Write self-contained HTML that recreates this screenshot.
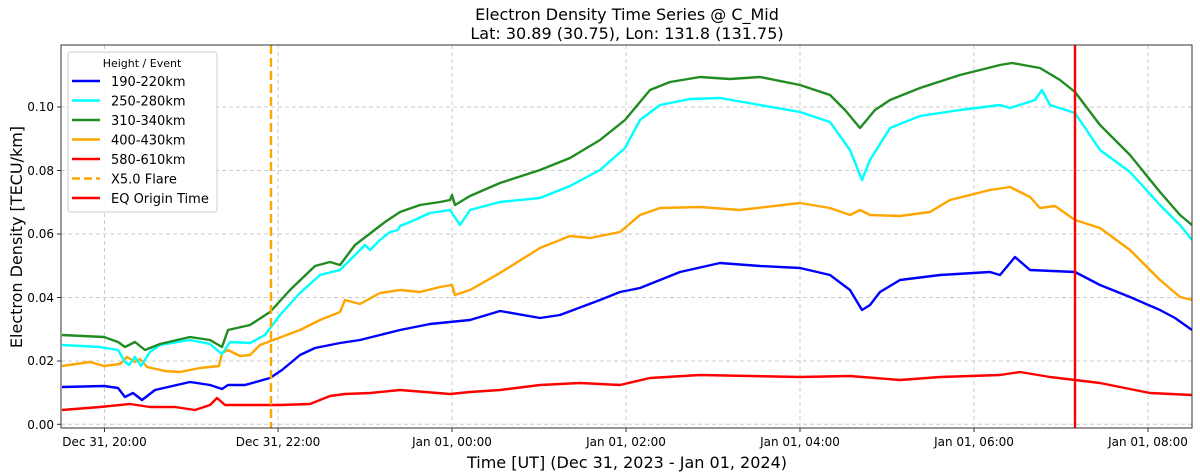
<!DOCTYPE html><html><head><meta charset="utf-8"><style>body{margin:0;background:#fff}svg{display:block;font-family:"DejaVu Sans","Liberation Sans",sans-serif}</style></head><body>
<svg width="1200" height="476" viewBox="0 0 1200 476">
<text x="627" y="20" font-size="16" text-anchor="middle">Electron Density Time Series @ C_Mid</text>
<text x="627" y="39" font-size="16" text-anchor="middle">Lat: 30.89 (30.75), Lon: 131.8 (131.75)</text>
<g stroke="#ccc" stroke-dasharray="4,3" stroke-width="1">
<line x1="104.5" y1="45" x2="104.5" y2="428"/><line x1="278" y1="45" x2="278" y2="428"/><line x1="452" y1="45" x2="452" y2="428"/><line x1="626" y1="45" x2="626" y2="428"/><line x1="800" y1="45" x2="800" y2="428"/><line x1="974" y1="45" x2="974" y2="428"/><line x1="1148" y1="45" x2="1148" y2="428"/>
<line x1="61" y1="424.3" x2="1192" y2="424.3"/><line x1="61" y1="361" x2="1192" y2="361"/><line x1="61" y1="297.5" x2="1192" y2="297.5"/><line x1="61" y1="234" x2="1192" y2="234"/><line x1="61" y1="170.5" x2="1192" y2="170.5"/><line x1="61" y1="107" x2="1192" y2="107"/>
</g>
<g fill="none" stroke-width="2.4" stroke-linejoin="round">
<polyline stroke="#ff0000" points="62,410 100,407 130,404 150,407 175,407 195,410 210,405 217,398 225,405 280,405 310,404 330,396 345,394 370,393 400,390 450,394 470,392 500,390 540,385 580,383 620,385 650,378 700,375 800,377 850,376 900,380 940,377 1000,375 1020,372 1050,377 1075,380 1100,383 1150,393 1192,395"/>
<polyline stroke="#0000ff" points="62,387 104,386 118,388 125,397 133,393 142,400 155,390 190,382 210,385 222,389 228,385 245,385 270,378 282,370 300,355 315,348 340,343 360,340 380,335 400,330 430,324 450,322 470,320 500,311 540,318 560,315 600,300 620,292 640,288 680,272 720,263 760,266 800,268 830,275 850,290 862,310 870,305 880,292 900,280 940,275 990,272 1000,275 1015,257 1030,270 1075,272 1100,285 1130,297 1160,310 1175,318 1192,330"/>
<polyline stroke="#ffa500" points="62,366 90,362 104,366 120,364 127,357 135,362 140,359 147,367 165,371 180,372 200,368 219,366 222,353 228,350 240,356 250,355 260,345 300,330 320,320 340,312 345,300 360,304 380,293 400,290 420,292 440,287 452,285 455,295 470,290 500,273 540,248 570,236 590,238 620,232 640,215 660,208 700,207 740,210 800,203 830,208 850,215 860,210 870,215 900,216 930,212 950,200 970,195 990,190 1010,187 1030,197 1040,208 1055,206 1075,220 1100,228 1130,250 1160,280 1180,297 1192,300"/>
<polyline stroke="#00ffff" points="62,345 100,347 118,350 125,362 129,365 135,357 141,366 150,352 160,345 190,340 210,344 222,354 230,342 250,343 265,335 280,315 300,293 320,275 340,270 355,255 365,245 370,250 380,240 390,232 398,230 400,226 410,222 430,213 450,210 460,225 470,210 500,202 540,198 570,186 600,170 625,148 640,120 660,105 690,99 720,98 760,105 800,112 830,122 850,150 862,180 870,160 890,128 920,116 960,110 1000,105 1010,108 1035,100 1042,90 1050,105 1075,113 1100,150 1130,172 1160,205 1180,225 1192,240"/>
<polyline stroke="#228b22" points="62,335 104,337 118,342 125,347 135,342 145,350 160,344 190,337 210,340 222,347 228,330 250,325 270,312 290,290 315,266 330,262 340,265 355,245 372,232 385,222 400,212 420,205 440,202 450,200 452,195 455,205 470,196 500,183 540,170 570,158 600,140 625,120 650,90 670,82 700,77 730,79 760,77 800,85 830,95 845,110 860,128 875,110 890,100 920,88 960,75 980,70 1000,65 1012,63 1040,68 1060,80 1075,92 1100,125 1130,155 1160,192 1180,215 1192,225"/>
</g>
<line x1="271" y1="45" x2="271" y2="428" stroke="#ffa500" stroke-width="2.4" stroke-dasharray="9,4"/>
<line x1="1075" y1="45" x2="1075" y2="428" stroke="#ff0000" stroke-width="2.4"/>
<rect x="61" y="45" width="1131" height="383" fill="none" stroke="#333" stroke-width="1"/>
<g stroke="#333"><line x1="104.5" y1="428" x2="104.5" y2="432"/><line x1="278" y1="428" x2="278" y2="432"/><line x1="452" y1="428" x2="452" y2="432"/><line x1="626" y1="428" x2="626" y2="432"/><line x1="800" y1="428" x2="800" y2="432"/><line x1="974" y1="428" x2="974" y2="432"/><line x1="1148" y1="428" x2="1148" y2="432"/>
<line x1="57" y1="424.3" x2="61" y2="424.3"/><line x1="57" y1="361" x2="61" y2="361"/><line x1="57" y1="297.5" x2="61" y2="297.5"/><line x1="57" y1="234" x2="61" y2="234"/><line x1="57" y1="170.5" x2="61" y2="170.5"/><line x1="57" y1="107" x2="61" y2="107"/></g>
<g font-size="12" text-anchor="end"><text x="54" y="429">0.00</text><text x="54" y="365">0.02</text><text x="54" y="302">0.04</text><text x="54" y="238">0.06</text><text x="54" y="175">0.08</text><text x="54" y="111">0.10</text></g>
<g font-size="12" text-anchor="middle"><text x="104.5" y="446">Dec 31, 20:00</text><text x="278" y="446">Dec 31, 22:00</text><text x="452" y="446">Jan 01, 00:00</text><text x="626" y="446">Jan 01, 02:00</text><text x="800" y="446">Jan 01, 04:00</text><text x="974" y="446">Jan 01, 06:00</text><text x="1148" y="446">Jan 01, 08:00</text></g>
<text x="627" y="468" font-size="16" text-anchor="middle">Time [UT] (Dec 31, 2023 - Jan 01, 2024)</text>
<text transform="translate(22,237) rotate(-90)" font-size="16" text-anchor="middle">Electron Density [TECU/km]</text>
<rect x="68" y="52" width="149" height="160" rx="3" fill="#fff" fill-opacity="0.85" stroke="#ccc"/>
<text x="142" y="67" font-size="11" text-anchor="middle">Height / Event</text>
<g stroke-width="2.4"><line x1="72" y1="81" x2="100" y2="81" stroke="#0000ff"/><line x1="72" y1="100.5" x2="100" y2="100.5" stroke="#00ffff"/><line x1="72" y1="120" x2="100" y2="120" stroke="#228b22"/><line x1="72" y1="139.5" x2="100" y2="139.5" stroke="#ffa500"/><line x1="72" y1="159" x2="100" y2="159" stroke="#ff0000"/><line x1="72" y1="178.5" x2="100" y2="178.5" stroke="#ffa500" stroke-dasharray="8,4"/><line x1="72" y1="198" x2="100" y2="198" stroke="#ff0000"/></g>
<g font-size="13"><text x="111" y="86">190-220km</text><text x="111" y="105.5">250-280km</text><text x="111" y="125">310-340km</text><text x="111" y="144.5">400-430km</text><text x="111" y="164">580-610km</text><text x="111" y="183.5">X5.0 Flare</text><text x="111" y="203">EQ Origin Time</text></g>
</svg></body></html>
